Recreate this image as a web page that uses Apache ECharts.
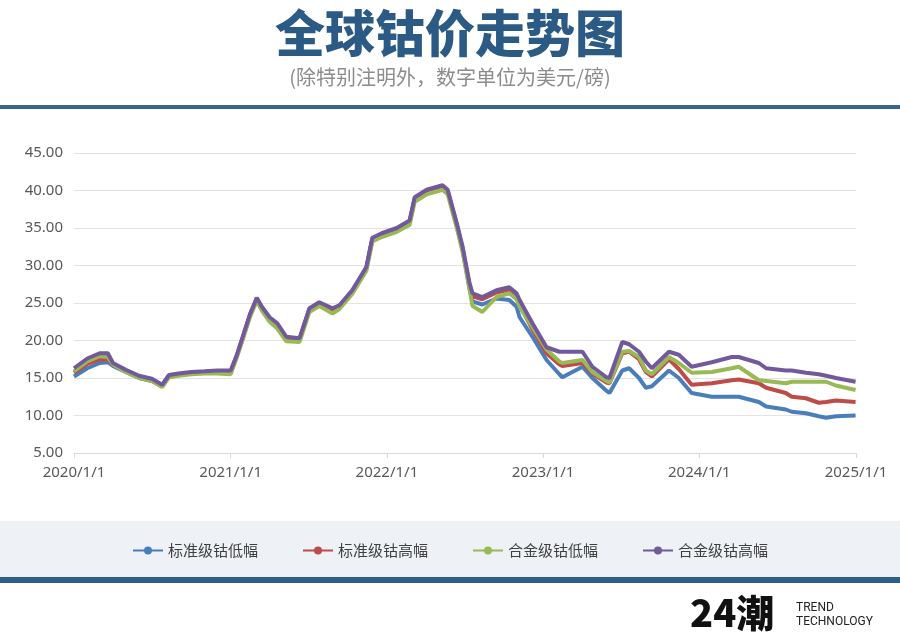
<!DOCTYPE html>
<html>
<head>
<meta charset="utf-8">
<script src="https://cdn.jsdelivr.net/npm/echarts@6/dist/echarts.min.js"></script>
<style>
html,body{margin:0;padding:0;background:#fff;}
#main{width:900px;height:642px;}
</style>
</head>
<body>
<div id="main"></div>
<script>
const titleText = '全球钴价走势图';
const subtitleText = '(除特别注明外，数字单位为美元/磅)';
const seriesNames = ['标准级钴低幅', '标准级钴高幅', '合金级钴低幅', '合金级钴高幅'];
const yTicks = [5, 10, 15, 20, 25, 30, 35, 40, 45];

const dates = [
'2020-01-01','2020-02-01','2020-03-01','2020-03-20','2020-04-01','2020-05-01','2020-06-01','2020-07-01','2020-07-25','2020-08-10',
'2020-09-01','2020-10-01','2020-11-01','2020-12-01','2021-01-01','2021-01-15','2021-02-01','2021-02-15','2021-03-03','2021-03-15',
'2021-04-02','2021-04-20','2021-05-11','2021-06-11','2021-07-04','2021-07-27','2021-08-27','2021-09-12','2021-10-12','2021-11-14',
'2021-11-28','2021-12-20','2022-01-24','2022-02-23','2022-03-07','2022-04-04','2022-05-11','2022-05-23','2022-06-13','2022-06-27',
'2022-07-13','2022-07-20','2022-08-12','2022-09-14','2022-10-14','2022-10-31','2022-11-07','2022-12-07','2023-01-09','2023-02-08',
'2023-02-15','2023-04-03','2023-04-26','2023-05-29','2023-06-05','2023-07-05','2023-07-21','2023-08-13','2023-08-29','2023-09-12',
'2023-10-22','2023-11-14','2023-12-14','2024-01-30','2024-03-17','2024-04-02','2024-05-19','2024-06-05','2024-07-21','2024-08-04',
'2024-09-06','2024-10-06','2024-10-23','2024-11-15','2024-12-31'
];

// 标准级钴低幅
const stdLow = [
15.2,16.3,17.0,17.1,16.6,15.8,15.0,14.6,13.9,15.2,
15.4,15.6,15.7,15.8,15.8,17.9,20.8,23.3,25.5,24.3,
22.9,22.0,20.3,20.2,24.2,25.0,24.1,24.5,26.5,29.6,
33.5,34.1,34.8,35.8,38.9,39.9,40.5,39.9,35.4,32.1,
27.0,25.2,24.8,25.6,25.4,24.5,23.1,20.5,17.4,15.5,
15.1,16.5,15.0,13.3,13.0,16.0,16.3,15.0,13.7,13.9,
16.0,15.0,13.0,12.5,12.5,12.5,11.8,11.2,10.8,10.5,
10.3,9.9,9.7,9.9,10.0
];
// 标准级钴高幅
const stdHigh = [
15.7,16.9,17.5,17.5,16.8,15.9,15.1,14.7,14.0,15.3,
15.5,15.7,15.8,15.9,15.8,17.9,20.9,23.4,25.6,24.3,
22.9,22.0,20.3,20.2,24.2,25.0,24.1,24.5,26.5,29.6,
33.5,34.1,34.8,35.8,38.9,39.9,40.5,39.9,35.5,32.2,
27.3,25.9,25.5,26.4,26.8,26.0,24.8,21.5,18.3,16.8,
16.6,17.0,15.6,14.4,14.3,18.3,18.5,17.5,15.8,15.2,
17.5,16.2,14.1,14.3,14.7,14.8,14.3,13.7,13.0,12.5,
12.3,11.7,11.8,12.0,11.8
];
// 合金级钴低幅
const alloyLow = [
15.9,17.2,17.9,17.8,16.8,15.8,15.0,14.6,13.8,15.1,
15.3,15.5,15.6,15.6,15.5,17.7,20.6,23.1,25.3,24.0,
22.5,21.6,19.9,19.8,23.8,24.6,23.6,24.2,26.2,29.3,
33.2,33.8,34.5,35.4,38.5,39.5,40.1,39.5,35.1,31.8,
26.8,24.6,23.8,25.8,26.3,25.5,24.5,21.8,18.8,17.2,
17.0,17.4,15.8,14.6,14.4,18.5,18.6,17.8,16.0,15.5,
17.8,17.0,15.7,15.8,16.3,16.5,14.7,14.6,14.3,14.5,
14.5,14.5,14.5,14.0,13.4
];
// 合金级钴高幅
const alloyHigh = [
16.3,17.6,18.3,18.3,17.0,16.1,15.3,14.9,14.1,15.4,
15.6,15.8,15.9,16.0,16.0,18.0,21.0,23.5,25.7,24.5,
23.1,22.3,20.5,20.3,24.3,25.1,24.3,24.7,26.7,29.8,
33.7,34.3,35.0,36.0,39.1,40.1,40.7,40.1,35.7,32.5,
27.7,26.3,25.8,26.7,27.1,26.3,25.4,22.3,19.1,18.5,
18.5,18.5,16.5,15.1,15.0,19.8,19.5,18.5,17.2,16.3,
18.5,18.1,16.5,17.1,17.8,17.8,17.0,16.3,16.0,16.0,
15.7,15.5,15.3,15.0,14.5
];

const colors = ['#4A7EBB', '#BE4B48', '#98B954', '#72599C'];
const allValues = [stdLow, stdHigh, alloyLow, alloyHigh];

const chart = echarts.init(document.getElementById('main'), null, {renderer: 'canvas'});

const series = seriesNames.map((name, i) => ({
  name: name,
  type: 'line',
  data: dates.map((d, k) => [d, allValues[i][k]]),
  showSymbol: false,
  symbol: 'circle',
  symbolSize: 10,
  smooth: false,
  lineStyle: {width: 4, color: colors[i]},
  itemStyle: {color: colors[i]},
  z: 2 + i
}));

const option = {
  backgroundColor: '#ffffff',
  animation: false,
  color: colors,
  title: [
    {
      text: titleText,
      left: 'center',
      top: 3,
      textStyle: {fontFamily: 'Noto Sans CJK SC', fontSize: 50, fontWeight: 900, color: '#2B5A84'}
    },
    {
      text: subtitleText,
      left: 'center',
      top: 62,
      textStyle: {fontFamily: 'Noto Sans CJK SC', fontSize: 20, fontWeight: 'normal', color: '#8C8C8C'}
    }
  ],
  graphic: [
    {type: 'rect', left: 0, top: 105, shape: {width: 900, height: 4}, style: {fill: '#3A6588'}, silent: true},
    {type: 'rect', left: 0, top: 521, shape: {width: 900, height: 57}, style: {fill: '#EEF2F7'}, silent: true, z: -1},
    {type: 'rect', left: 0, top: 577, shape: {width: 900, height: 6}, style: {fill: '#2F5F86'}, silent: true},
    {type: 'text', left: 690, top: 594, style: {text: '24潮', font: '900 38px "Noto Sans CJK SC"', fill: '#111111'}, silent: true},
    {type: 'text', left: 796, top: 601, style: {text: 'TREND\nTECHNOLOGY', font: '12px "Liberation Sans Narrow", "Roboto"', fill: '#222222', lineHeight: 14}, silent: true}
  ],
  legend: {
    data: seriesNames,
    top: 538,
    left: 'center',
    itemWidth: 30,
    itemHeight: 10,
    itemGap: 44,
    textStyle: {fontFamily: 'Noto Sans CJK SC', fontSize: 15, color: '#404040'}
  },
  grid: {left: 74, right: 44, top: 153, bottom: 189, containLabel: false},
  xAxis: {
    type: 'time',
    min: '2020-01-01',
    max: '2025-01-01',
    splitNumber: 5,
    minInterval: 365 * 24 * 3600 * 1000,
    maxInterval: 366 * 24 * 3600 * 1000,
    axisLine: {show: true, lineStyle: {color: '#D9D9D9', width: 1}},
    axisTick: {show: true, length: 5, lineStyle: {color: '#D9D9D9'}},
    splitLine: {show: false},
    axisLabel: {
      show: true,
      margin: 12,
      showMinLabel: true,
      showMaxLabel: true,
      fontFamily: 'Liberation Sans Narrow, Noto Sans',
      fontSize: 15,
      color: '#595959',
      formatter: function (v) {
        const d = new Date(v);
        return d.getFullYear() + '/' + (d.getMonth() + 1) + '/' + d.getDate();
      }
    }
  },
  yAxis: {
    type: 'value',
    min: yTicks[0],
    max: yTicks[yTicks.length - 1],
    interval: 5,
    axisLine: {show: false},
    axisTick: {show: false},
    splitLine: {show: true, lineStyle: {color: '#E3E3E3', width: 1}},
    axisLabel: {
      margin: 11,
      fontFamily: 'Liberation Sans Narrow, Noto Sans',
      fontSize: 15,
      color: '#595959',
      formatter: function (v) { return v.toFixed(2); }
    }
  },
  series: series
};

chart.setOption(option);
</script>
</body>
</html>
